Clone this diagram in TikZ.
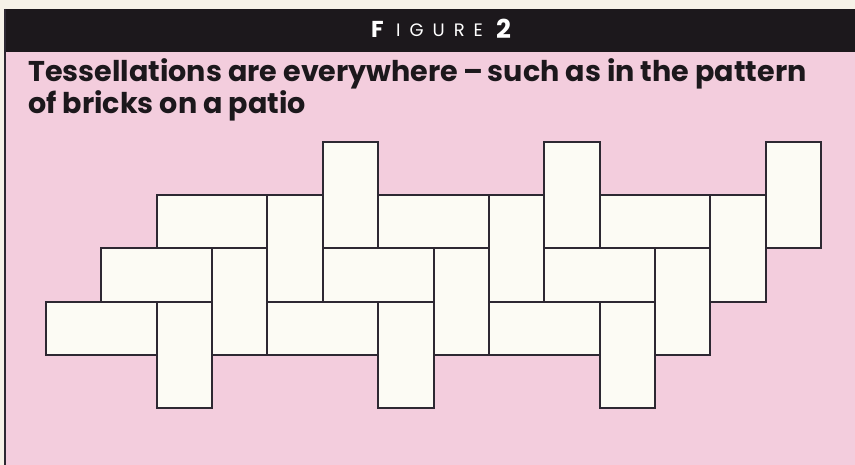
\documentclass[tikz,border=0pt]{standalone}
\usepackage{fontspec}
\usepackage{tikz}
\usetikzlibrary{positioning}
\newfontfamily\figfont{Poppins}[Ligatures=TeX]

\definecolor{papercream}{RGB}{246,242,232}
\definecolor{patiopink}{RGB}{243,205,221}
\definecolor{barblack}{RGB}{28,24,28}
\definecolor{brickwhite}{RGB}{252,251,244}
\definecolor{groutline}{RGB}{45,40,50}

\tikzset{
    brick/.style={draw=groutline, fill=brickwhite, line width=2pt, line join=miter},
    headtext/.style={anchor=base west, inner sep=0pt, text=white},
    titletext/.style={anchor=base west, inner sep=0pt, text=barblack, align=left,
        font=\figfont\bfseries\fontsize{28.6}{23.5}\selectfont},
}

\begin{document}
\begin{tikzpicture}[x=1pt,y=-1pt]
    \useasboundingbox (0,0) rectangle (855,465);
    \fill[papercream] (0,0) rectangle (855,465);
    \fill[patiopink] (4,52) rectangle (855,465);
    \fill[barblack] (4,9) rectangle (855,52);
    \draw[groutline,line width=2pt] (5,9) -- (5,465);

    % heading in the black bar
    \node[headtext, font=\figfont\bfseries\fontsize{23}{23}\selectfont] (headF) at (371,38) {F};
    \node[headtext, font=\figfont\fontsize{18}{18}\selectfont] (headword) at (396,37)
        {\addfontfeatures{LetterSpace=50}IGURE};
    \node[headtext, font=\figfont\bfseries\fontsize{26}{26}\selectfont] (headnum) at (496,39) {2};

    % base anchor sits on the last line
    \node[titletext] (title) at (28,113.5)
        {Tessellations are everywhere\,–\,such as in the pattern\\of bricks on a patio};

    % the bricks, on a grid of half-bricks
    \begin{scope}[shift={(46,142)}, x=55.36pt, y=-53.2pt]
        \foreach \k in {0,1,2} {
            \pgfmathtruncatemacro\s{4*\k}
            \draw[brick] (\s+2,1) rectangle (\s+4,2);
            \draw[brick] (\s+1,2) rectangle (\s+3,3);
            \draw[brick] (\s,3) rectangle (\s+2,4);
            \draw[brick] (\s+5,0) rectangle (\s+6,2);
            \draw[brick] (\s+4,1) rectangle (\s+5,3);
            \draw[brick] (\s+3,2) rectangle (\s+4,4);
            \draw[brick] (\s+2,3) rectangle (\s+3,5);
        }
    \end{scope}
\end{tikzpicture}
\end{document}
